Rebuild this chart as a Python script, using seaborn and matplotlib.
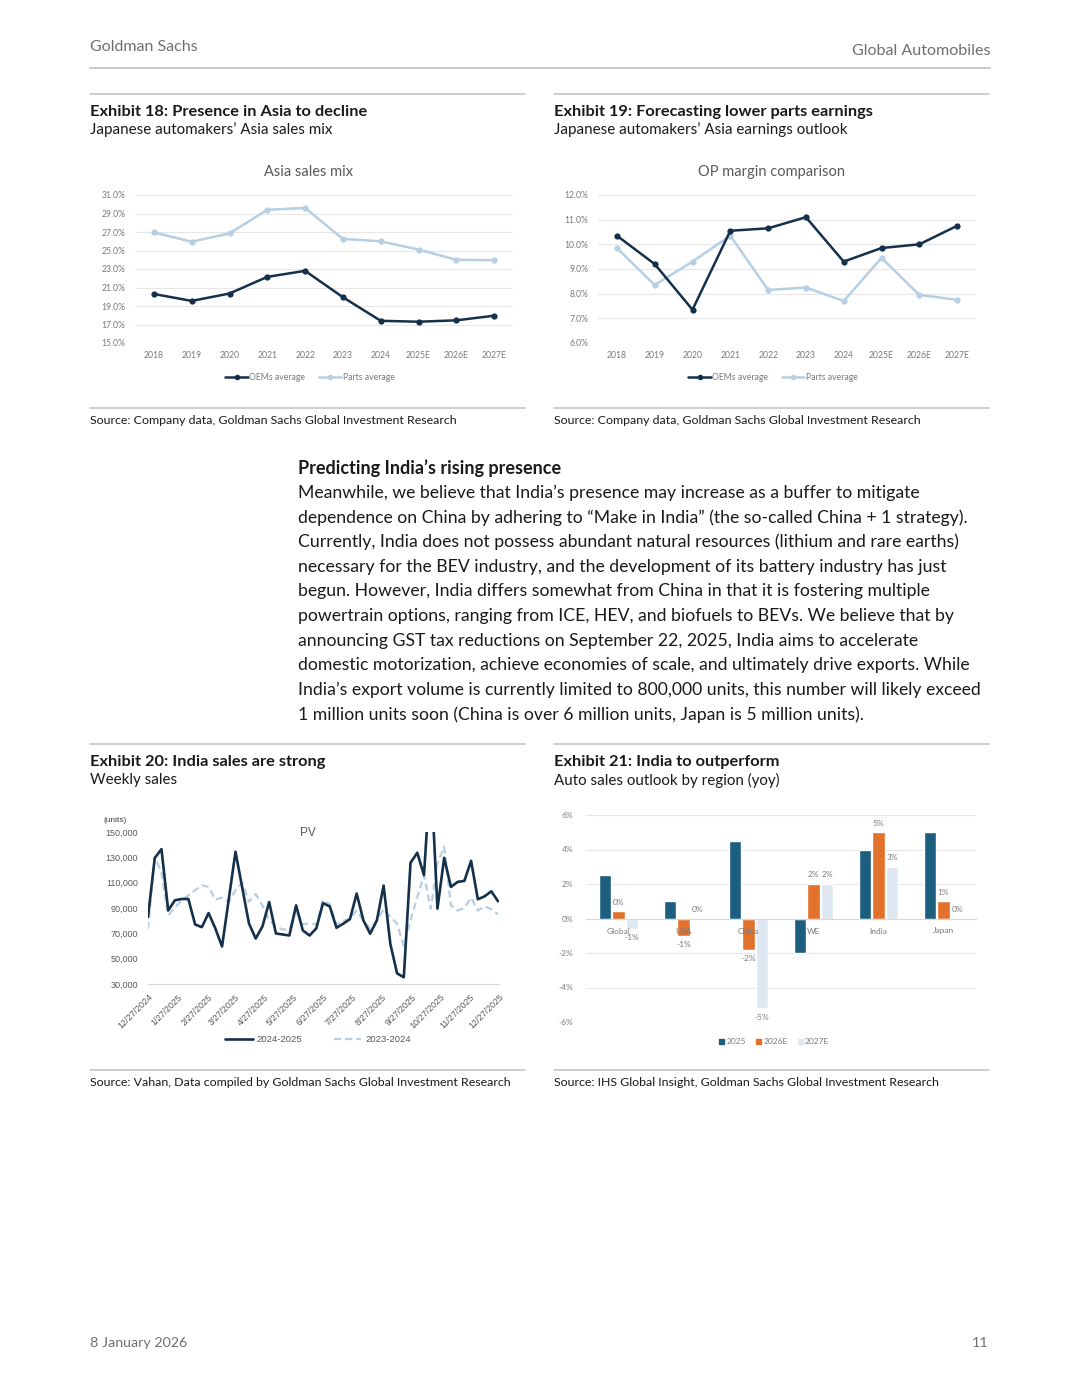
import pandas as pd
import matplotlib
matplotlib.use("Agg")
import matplotlib.pyplot as plt
from matplotlib.lines import Line2D
from matplotlib.patches import Patch
from matplotlib.ticker import FuncFormatter
import seaborn as sns

sns.set_style("white")
plt.rcParams["font.family"] = ["Lato", "DejaVu Sans"]

W, H = 1080, 1397

# Exhibit 18 / 19 data (Japanese automakers, Asia)
years = ["2018", "2019", "2020", "2021", "2022", "2023", "2024", "2025E", "2026E", "2027E"]
sales_mix_oems = [20.3, 19.55, 20.35, 22.15, 22.8, 19.95, 17.4, 17.3, 17.45, 17.95]
sales_mix_parts = [26.95, 25.95, 26.85, 29.4, 29.6, 26.25, 26.0, 25.1, 24.0, 23.95]
op_margin_oems = [10.35, 9.2, 7.35, 10.55, 10.65, 11.1, 9.3, 9.85, 10.0, 10.75]
op_margin_parts = [9.85, 8.35, 9.3, 10.35, 8.15, 8.25, 7.7, 9.45, 7.95, 7.75]

# Exhibit 20 data (weekly PV sales, units)
week_start = "2024-12-27"
pv_2024_2025 = [82800, 129400, 136500, 88100, 96100, 97100, 97100, 77000, 74900, 86000,
                73900, 59600, 97000, 134400, 106000, 77800, 65900, 75400, 94700, 69900,
                69100, 68300, 92100, 72300, 68300, 73900, 93800, 91300, 74400, 77600,
                81200, 101400, 80200, 69700, 80200, 107700, 61700, 38400, 35300, 125700,
                133600, 115900, 200000, 89500, 129600, 106600, 110600, 111400, 127200, 96900,
                99200, 103200, 95300]
pv_2023_2024 = [73600, 130400, 118000, 84200, 90300, 96100, 100000, 104000, 108000, 106600,
                96600, 98200, 94700, 104000, 110000, 95000, 101000, 92000, 80200, 75500,
                73000, 73000, 88100, 77000, 78000, 77000, 96500, 93000, 77000, 80000,
                81500, 88000, 80000, 74000, 80000, 89000, 83000, 77600, 60000, 80200,
                98700, 115900, 89500, 125200, 138400, 92100, 88000, 90000, 98200, 88000,
                91300, 89000, 85000]
date_ticks = ["12/27/2024", "1/27/2025", "2/27/2025", "3/27/2025", "4/27/2025", "5/27/2025",
              "6/27/2025", "7/27/2025", "8/27/2025", "9/27/2025", "10/27/2025", "11/27/2025",
              "12/27/2025"]

# Exhibit 21 data (yoy %, by region)
regions = ["Global", "USA", "China", "WE", "India", "Japan"]
outlook_years = ["2025", "2026E", "2027E"]
yoy_2025 = [2.55, 1.0, 4.5, -2.0, 4.0, 5.0]
yoy_2026e = [0.43, -1.0, -1.8, 2.0, 5.0, 1.0]
yoy_2027e = [-0.6, 0.0, -5.2, 2.0, 3.0, 0.0]

body_lines = [
    "Meanwhile, we believe that India’s presence may increase as a buffer to mitigate",
    "dependence on China by adhering to “Make in India” (the so-called China + 1 strategy).",
    "Currently, India does not possess abundant natural resources (lithium and rare earths)",
    "necessary for the BEV industry, and the development of its battery industry has just",
    "begun. However, India differs somewhat from China in that it is fostering multiple",
    "powertrain options, ranging from ICE, HEV, and biofuels to BEVs. We believe that by",
    "announcing GST tax reductions on September 22, 2025, India aims to accelerate",
    "domestic motorization, achieve economies of scale, and ultimately drive exports. While",
    "India’s export volume is currently limited to 800,000 units, this number will likely exceed",
    "1 million units soon (China is over 6 million units, Japan is 5 million units).",
]

NAVY = "#15304a"
LIGHT = "#b6cfe2"
GRID = "#e6e6e6"
TICK = "#7a7a7a"
RULE = "#c6c6c6"
INK = "#1a1a1a"
BAR_COLORS = {"2025": "#1b5e7e", "2026E": "#e2712b", "2027E": "#dfe8f1"}

fig = plt.figure(figsize=(W / 100, H / 100), dpi=100)
fig.patch.set_facecolor("white")


def fy(y):
    return 1 - y / H


def txt(x, y, s, **kw):
    kw.setdefault("va", "center")
    fig.text(x / W, fy(y), s, **kw)


def rule(x0, x1, y, lw=1.2, color=RULE):
    fig.add_artist(Line2D([x0 / W, x1 / W], [fy(y), fy(y)], transform=fig.transFigure,
                          color=color, lw=lw))


def axes_px(x0, y0, x1, y1):
    return fig.add_axes([x0 / W, 1 - y1 / H, (x1 - x0) / W, (y1 - y0) / H])


# page furniture
txt(90, 47, "Goldman Sachs", size=11.5, color="#707070")
txt(990, 51, "Global Automobiles", size=11.6, color="#707070", ha="right")
rule(90, 990, 68, lw=1.4)

for x0, x1 in [(90, 525), (554, 989)]:
    rule(x0, x1, 94)
    rule(x0, x1, 408)
    rule(x0, x1, 744)
    rule(x0, x1, 1070)

txt(90, 112, "Exhibit 18: Presence in Asia to decline", size=11.8, weight="bold", color=INK)
txt(90, 130, "Japanese automakers’ Asia sales mix", size=10.9, color=INK)
txt(554, 112, "Exhibit 19: Forecasting lower parts earnings", size=11.8, weight="bold", color=INK)
txt(554, 130, "Japanese automakers’ Asia earnings outlook", size=10.9, color=INK)
txt(90, 421, "Source: Company data, Goldman Sachs Global Investment Research", size=8.9, color=INK)
txt(554, 421, "Source: Company data, Goldman Sachs Global Investment Research", size=8.9, color=INK)

txt(298, 468, "Predicting India’s rising presence", size=13, weight="bold", color=INK)
for i, line in enumerate(body_lines):
    txt(298, 493 + i * 24.6, line, size=12.7, color=INK)

txt(90, 762, "Exhibit 20: India sales are strong", size=11.8, weight="bold", color=INK)
txt(90, 780, "Weekly sales", size=10.9, color=INK)
txt(554, 762, "Exhibit 21: India to outperform", size=11.8, weight="bold", color=INK)
txt(554, 780, "Auto sales outlook by region (yoy)", size=10.9, color=INK)
txt(90, 1083, "Source: Vahan, Data compiled by Goldman Sachs Global Investment Research", size=8.9, color=INK)
txt(554, 1083, "Source: IHS Global Insight, Goldman Sachs Global Investment Research", size=8.9, color=INK)

txt(90, 1343, "8 January 2026", size=10.3, color="#707070")
txt(989, 1343, "11", size=10.3, color="#707070", ha="right")


# line charts (exhibits 18, 19)
def line_chart(ax, oems, parts, ymin, ymax, step, title, title_x):
    df = pd.DataFrame({
        "year": years * 2,
        "value": oems + parts,
        "series": ["OEMs average"] * len(years) + ["Parts average"] * len(years),
    })
    sns.lineplot(data=df, x="year", y="value", hue="series",
                 hue_order=["Parts average", "OEMs average"],
                 palette={"OEMs average": NAVY, "Parts average": LIGHT},
                 marker="o", markersize=4.5, markeredgewidth=0, linewidth=1.8,
                 sort=False, legend=False, ax=ax)
    ax.set_xlim(-0.5, len(years) - 0.5)
    ax.set_ylim(ymin, ymax)
    ax.set_yticks([ymin + step * k for k in range(int(round((ymax - ymin) / step)) + 1)])
    ax.yaxis.set_major_formatter(FuncFormatter(lambda v, p: f"{v:.1f}%"))
    ax.grid(axis="y", color=GRID, lw=0.8)
    ax.set_axisbelow(True)
    sns.despine(ax=ax, left=True, bottom=True)
    ax.tick_params(length=0, labelsize=6.2, labelcolor=TICK)
    ax.tick_params(axis="y", pad=7)
    ax.tick_params(axis="x", pad=6)
    ax.set_xlabel("")
    ax.set_ylabel("")
    txt(title_x, 172, title, size=10.5, color="#595959", ha="center")
    handles = [Line2D([], [], color=NAVY, lw=1.8, marker="o", markersize=4, markeredgewidth=0),
               Line2D([], [], color=LIGHT, lw=1.8, marker="o", markersize=4, markeredgewidth=0)]
    ax.legend(handles, ["OEMs average", "Parts average"], loc="center",
              bbox_to_anchor=((title_x + 2) / W, fy(378)), bbox_transform=fig.transFigure,
              ncol=2, frameon=False, fontsize=6.2, labelcolor=TICK, handlelength=2.6,
              handletextpad=0.15, columnspacing=1.6)


ax1 = axes_px(135, 195, 513, 343)
line_chart(ax1, sales_mix_oems, sales_mix_parts, 15, 31, 2, "Asia sales mix", 308)

ax2 = axes_px(598, 195, 976, 343)
line_chart(ax2, op_margin_oems, op_margin_parts, 6, 12, 1, "OP margin comparison", 771)

# weekly sales (exhibit 20)
ax3 = axes_px(148, 832, 499, 984)
weeks = pd.date_range(week_start, periods=len(pv_2024_2025), freq="7D")
tick_dates = pd.to_datetime(date_ticks, format="%m/%d/%Y")
sns.lineplot(x=weeks, y=pv_2023_2024, color=LIGHT, lw=1.6, legend=False, ax=ax3)
ax3.lines[-1].set_dashes((3.2, 1.8))
sns.lineplot(x=weeks, y=pv_2024_2025, color=NAVY, lw=1.9, legend=False, ax=ax3)
ax3.set_xlim(tick_dates[0], tick_dates[-1])
ax3.set_ylim(30000, 150000)
ax3.set_yticks(range(30000, 150001, 20000))
ax3.yaxis.set_major_formatter(FuncFormatter(lambda v, p: f"{v:,.0f}"))
ax3.set_xticks(tick_dates)
ax3.set_xticklabels(date_ticks, rotation=45, ha="right", rotation_mode="anchor")
ax3.set_xlabel("")
ax3.set_ylabel("")
sns.despine(ax=ax3, left=True)
ax3.spines["bottom"].set_color("#d9d9d9")
ax3.tick_params(axis="y", length=0, pad=7, labelsize=6.5, labelcolor="#595959")
ax3.tick_params(axis="x", length=3, color="#d9d9d9", pad=3, labelsize=6.5, labelcolor="#595959")
for lab in ax3.get_xticklabels() + ax3.get_yticklabels():
    lab.set_family("Liberation Sans")
txt(104, 820, "(units)", size=6, color="#404040", family="Liberation Sans")
txt(308, 833, "PV", size=8.5, color="#595959", ha="center", family="Liberation Sans")
handles3 = [Line2D([], [], color=NAVY, lw=1.9),
            Line2D([], [], color=LIGHT, lw=1.6, dashes=(3.2, 1.8))]
ax3.legend(handles3, ["2024-2025", "2023-2024"], loc="center",
           bbox_to_anchor=(318 / W, fy(1040)), bbox_transform=fig.transFigure,
           ncol=2, frameon=False, handlelength=2.9, handletextpad=0.4, columnspacing=3.4,
           prop={"family": "Liberation Sans", "size": 6.8}, labelcolor="#595959")

# regional outlook (exhibit 21)
ax4 = axes_px(586, 815, 976, 1022)
df4 = pd.DataFrame({
    "region": regions * 3,
    "year": [y for y in outlook_years for _ in regions],
    "yoy": yoy_2025 + yoy_2026e + yoy_2027e,
})
sns.barplot(data=df4, x="region", y="yoy", hue="year", order=regions, hue_order=outlook_years,
            palette=BAR_COLORS, width=0.63, gap=0.12, saturation=1, legend=False, ax=ax4)
for cont, vals in zip(ax4.containers[1:], [yoy_2026e, yoy_2027e]):
    ax4.bar_label(cont, labels=[f"{v:.0f}%" for v in vals], padding=4, fontsize=6,
                  color="#7a7a7a")
ax4.set_ylim(-6, 6)
ax4.set_yticks(range(-6, 7, 2))
ax4.yaxis.set_major_formatter(FuncFormatter(lambda v, p: f"{v:.0f}%"))
ax4.grid(axis="y", color=GRID, lw=0.8)
ax4.set_axisbelow(True)
sns.despine(ax=ax4, left=True)
ax4.spines["bottom"].set_position(("data", 0))
ax4.spines["bottom"].set_color("#d9d9d9")
ax4.tick_params(length=0, labelsize=6, labelcolor="#7a7a7a")
ax4.tick_params(axis="y", pad=9)
ax4.tick_params(axis="x", labelbottom=False)
# category names sit on the zero line, drawn over the bars
for i, name in enumerate(regions):
    ax4.annotate(name, xy=(i, 0), xycoords="data", xytext=(0, -9), textcoords="offset points",
                 ha="center", va="center", fontsize=6, color="#7a7a7a", zorder=5)
ax4.set_xlabel("")
ax4.set_ylabel("")
handles4 = [Patch(color=BAR_COLORS[y]) for y in outlook_years]
ax4.legend(handles4, outlook_years, loc="center",
           bbox_to_anchor=(774 / W, fy(1042)), bbox_transform=fig.transFigure,
           ncol=3, frameon=False, fontsize=6, labelcolor="#7a7a7a",
           handlelength=0.6, handleheight=0.6, handletextpad=0.3, columnspacing=1.2)

fig.savefig("out.png", dpi=100, facecolor="white")
